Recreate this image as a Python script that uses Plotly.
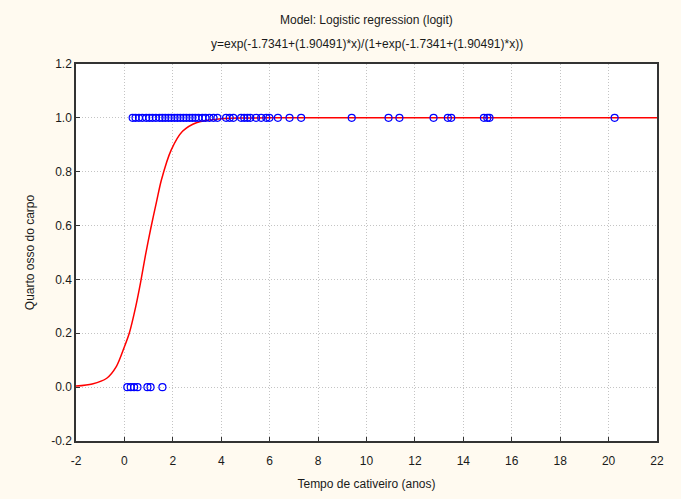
import plotly.graph_objects as go

# Observed data: y = 1 group
x_one = [0.34, 0.46, 0.60, 0.74, 0.90, 1.03, 1.16, 1.30, 1.45, 1.57, 1.69, 1.82,
         1.94, 2.07, 2.19, 2.31, 2.44, 2.56, 2.69, 2.81, 2.93, 3.06, 3.22, 3.35,
         3.51, 3.68, 3.84, 4.20, 4.35, 4.50, 4.82, 4.95, 5.08, 5.20, 5.44, 5.65,
         5.86, 5.99, 6.34, 6.82, 7.30, 9.39, 10.91, 11.36, 12.77, 13.36, 13.50,
         14.85, 14.99, 15.08, 20.25]
y_one = [1.0] * len(x_one)

# Observed data: y = 0 group
x_zero = [0.12, 0.26, 0.40, 0.54, 0.95, 1.08, 1.57]
y_zero = [0.0] * len(x_zero)

# Fitted logistic curve
curve_x = [-2.0, -1.33, -0.73, -0.33, 0.0, 0.2, 0.47, 0.67, 0.87, 1.09, 1.33,
           1.53, 1.93, 2.4, 3.0, 4.0, 5.0, 6.0, 22.0]
curve_y = [0.004, 0.012, 0.033, 0.077, 0.15, 0.20, 0.30, 0.39, 0.49, 0.59, 0.69,
           0.77, 0.88, 0.95, 0.983, 0.997, 0.9994, 1.0, 1.0]

x_ticks = list(range(-2, 23, 2))
x_tick_text = [str(v) for v in x_ticks]
y_ticks = [-0.2, 0.0, 0.2, 0.4, 0.6, 0.8, 1.0, 1.2]
y_tick_text = ["-0.2", "0.0", "0.2", "0.4", "0.6", "0.8", "1.0", "1.2"]

title_line1 = "Model: Logistic regression (logit)"
title_line2 = "y=exp(-1.7341+(1.90491)*x)/(1+exp(-1.7341+(1.90491)*x))"

FONT = "Liberation Sans, Arial, sans-serif"
TXT = "#1a1a1a"
GRID = "#c4c4c4"

fig = go.Figure()
fig.add_trace(go.Scatter(x=curve_x, y=curve_y, mode="lines",
                         line=dict(color="#ff0000", width=1.5, shape="spline",
                                   smoothing=0.8),
                         hoverinfo="skip", showlegend=False))
fig.add_trace(go.Scatter(x=x_one + x_zero, y=y_one + y_zero, mode="markers",
                         marker=dict(symbol="circle-open", size=7, color="#0000ff",
                                     line=dict(width=1.2, color="#0000ff")),
                         showlegend=False))

fig.update_layout(
    width=681, height=499,
    paper_bgcolor="#fffaf0",
    plot_bgcolor="#ffffff",
    margin=dict(l=76, r=24, t=64, b=58),
    font=dict(family=FONT, size=12, color=TXT),
)

plot_h = 499 - 64 - 58
def ypix(p):
    return (499 - 58 - p) / plot_h

fig.add_annotation(text=title_line1, x=0.5, y=ypix(20), xref="paper", yref="paper",
                   showarrow=False, yanchor="middle", font=dict(size=12, color=TXT))
fig.add_annotation(text=title_line2, x=0.5, y=ypix(44), xref="paper", yref="paper",
                   showarrow=False, yanchor="middle", font=dict(size=12, color=TXT))

fig.update_xaxes(range=[-2, 22], tickvals=x_ticks, ticktext=x_tick_text,
                 ticks="inside", ticklen=4, ticklabelstandoff=8, automargin=False,
                 tickcolor="#333", showline=True, linecolor="#333", linewidth=1.5,
                 mirror=True, showgrid=True, gridcolor=GRID, griddash="1px,2px",
                 gridwidth=1, zeroline=False,
                 title=dict(text="Tempo de cativeiro (anos)", standoff=12,
                            font=dict(size=12, color=TXT)),
                 tickfont=dict(size=12, color=TXT))
fig.update_yaxes(range=[-0.2, 1.2], tickvals=y_ticks, ticktext=y_tick_text,
                 ticks="inside", ticklen=4, tickcolor="#333", showline=True,
                 automargin=False,
                 linecolor="#333", linewidth=1.5, mirror=True, showgrid=True,
                 gridcolor=GRID, griddash="1px,2px", gridwidth=1, zeroline=False,
                 title=dict(text="Quarto osso do carpo", standoff=14,
                            font=dict(size=12, color=TXT)),
                 tickfont=dict(size=12, color=TXT))

fig.write_html("out.html")
